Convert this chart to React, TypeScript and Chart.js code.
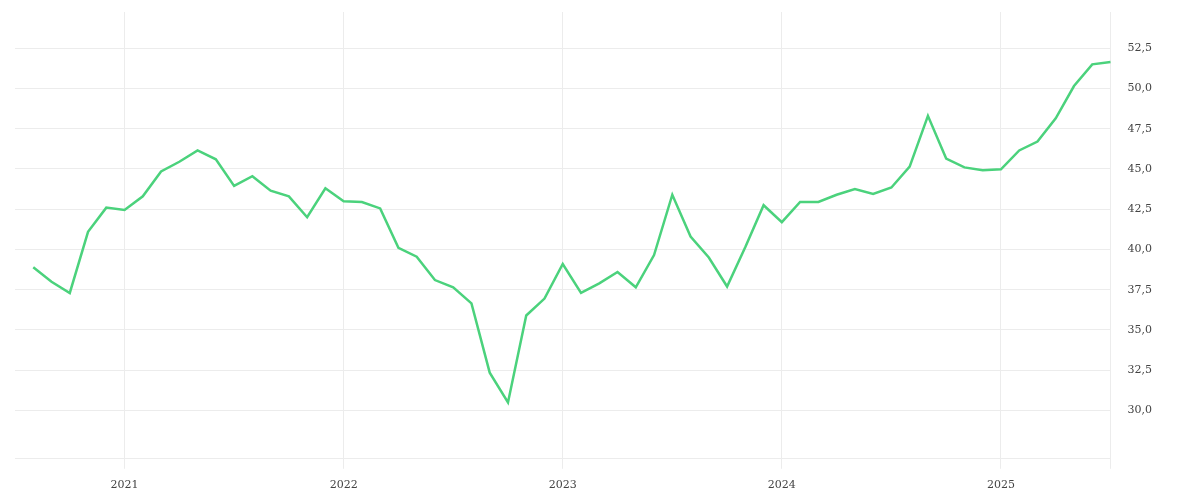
import { useEffect, useRef } from "react";
import Chart from "chart.js/auto";

// monthly observations, Aug 2020 .. Jul 2025
const months = [
  "2020-08", "2020-09", "2020-10", "2020-11", "2020-12",
  "2021-01", "2021-02", "2021-03", "2021-04", "2021-05", "2021-06",
  "2021-07", "2021-08", "2021-09", "2021-10", "2021-11", "2021-12",
  "2022-01", "2022-02", "2022-03", "2022-04", "2022-05", "2022-06",
  "2022-07", "2022-08", "2022-09", "2022-10", "2022-11", "2022-12",
  "2023-01", "2023-02", "2023-03", "2023-04", "2023-05", "2023-06",
  "2023-07", "2023-08", "2023-09", "2023-10", "2023-11", "2023-12",
  "2024-01", "2024-02", "2024-03", "2024-04", "2024-05", "2024-06",
  "2024-07", "2024-08", "2024-09", "2024-10", "2024-11", "2024-12",
  "2025-01", "2025-02", "2025-03", "2025-04", "2025-05", "2025-06",
  "2025-07",
];

const values = [
  38.9, 38.0, 37.3, 41.1, 42.6,
  42.45, 43.3, 44.85, 45.45, 46.15, 45.6,
  43.95, 44.55, 43.65, 43.3, 42.0, 43.8,
  43.0, 42.95, 42.55, 40.1, 39.55, 38.1,
  37.65, 36.65, 32.35, 30.5, 35.9, 36.95,
  39.1, 37.3, 37.9, 38.6, 37.65, 39.65,
  43.4, 40.8, 39.5, 37.7, 40.15, 42.75,
  41.7, 42.95, 42.95, 43.4, 43.75, 43.45,
  43.85, 45.15, 48.3, 45.65, 45.1, 44.92,
  44.98, 46.15, 46.7, 48.15, 50.15, 51.5,
  51.65,
];

const yTicks = [30, 32.5, 35, 37.5, 40, 42.5, 45, 47.5, 50, 52.5];
const yMin = 27;
const yMax = 54.75;

const lineColor = "#4bd27c";
const gridColor = "#ececec";
const textColor = "#444";
const tickFont = { family: "'DejaVu Serif', serif", size: 11 };

export default function App() {
  const canvasRef = useRef<HTMLCanvasElement | null>(null);

  useEffect(() => {
    if (!canvasRef.current) return;

    // leading blank slot so the first point sits one month in from the edge
    const labels = ["", ...months];
    const data = [null, ...values];
    const lastIndex = labels.length - 1;

    const showGrid = (index: number) =>
      index === lastIndex || labels[index].endsWith("-01");

    const chart = new Chart(canvasRef.current, {
      type: "line",
      data: {
        labels,
        datasets: [
          {
            data,
            borderColor: lineColor,
            borderWidth: 2.5,
            pointRadius: 0,
            tension: 0,
            fill: false,
          },
        ],
      },
      options: {
        responsive: true,
        maintainAspectRatio: false,
        animation: false,
        layout: {
          padding: { left: 15, top: 12, right: 48, bottom: 0 },
        },
        plugins: {
          legend: { display: false },
          tooltip: { enabled: false },
        },
        scales: {
          x: {
            offset: false,
            grid: {
              color: (ctx) => (showGrid(ctx.index) ? gridColor : "transparent"),
              tickLength: 10,
            },
            border: { display: true, color: gridColor },
            ticks: {
              autoSkip: false,
              maxRotation: 0,
              padding: 10,
              color: textColor,
              font: tickFont,
              callback: (_v, i) =>
                labels[i].endsWith("-01") ? labels[i].slice(0, 4) : "",
            },
          },
          y: {
            position: "right",
            min: yMin,
            max: yMax,
            afterBuildTicks: (scale) => {
              scale.ticks = yTicks.map((value) => ({ value }));
            },
            // invisible tick marks make the label gap without padding the top
            grid: { color: gridColor, tickLength: 17, tickColor: "transparent" },
            border: { display: false },
            ticks: {
              padding: 0,
              color: textColor,
              font: tickFont,
              callback: (v) => Number(v).toFixed(1).replace(".", ","),
            },
          },
        },
      },
    });

    return () => chart.destroy();
  }, []);

  return (
    <div style={{ position: "fixed", left: 0, top: 0, width: 1200, height: 502 }}>
      <canvas ref={canvasRef} />
    </div>
  );
}
